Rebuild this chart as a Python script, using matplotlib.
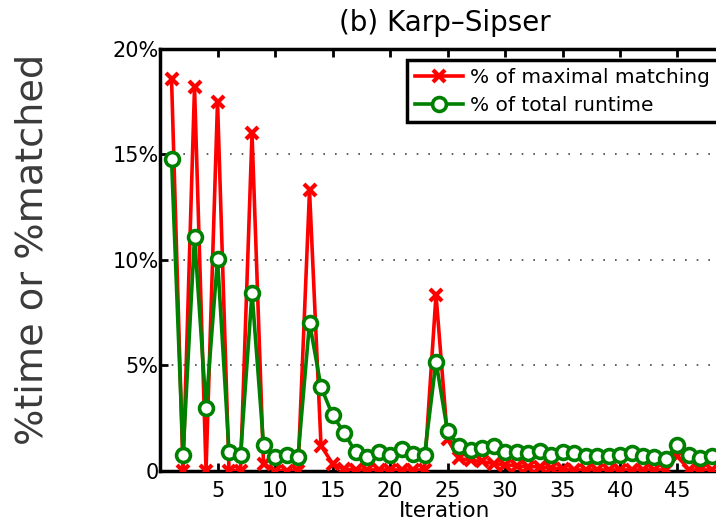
"""Per-iteration share of matching and runtime for Karp-Sipser."""

import numpy as np
import matplotlib
matplotlib.use("Agg")
import matplotlib.pyplot as plt

iterations = np.arange(1, 49)

pct_matching = [
    18.6, 0.02, 18.2, 0.02, 17.5, 0.02, 0.02, 16.0, 0.35, 0.02,
    0.02, 0.02, 13.3, 1.2, 0.35, 0.1, 0.05, 0.05, 0.05, 0.05,
    0.05, 0.05, 0.05, 8.35, 1.5, 0.6, 0.5, 0.45, 0.35, 0.3,
    0.25, 0.2, 0.2, 0.15, 0.1, 0.05, 0.05, 0.05, 0.05, 0.05,
    0.05, 0.05, 0.05, 0.05, 0.72, 0.05, 0.05, 0.05,
]

pct_runtime = [
    14.8, 0.75, 11.1, 3.0, 10.05, 0.9, 0.75, 8.45, 1.23, 0.68,
    0.75, 0.68, 7.03, 3.98, 2.65, 1.82, 0.9, 0.68, 0.92, 0.75,
    1.05, 0.8, 0.75, 5.18, 1.88, 1.2, 1.0, 1.1, 1.18, 0.9,
    0.9, 0.85, 0.95, 0.75, 0.9, 0.85, 0.7, 0.7, 0.7, 0.75,
    0.85, 0.7, 0.68, 0.58, 1.22, 0.75, 0.6, 0.7,
]

y_ticks = [0, 5, 10, 15, 20]
y_ticklabels = ["0", "5%", "10%", "15%", "20%"]
x_ticks = [5, 10, 15, 20, 25, 30, 35, 40, 45]

plt.rcParams["font.family"] = "DejaVu Sans"

fig = plt.figure(figsize=(7.16, 5.21), dpi=100)
# axes run a little past the right edge of the canvas
ax = fig.add_axes([0.2235, 0.096, 0.795, 0.81])

ax.plot(iterations, pct_matching, color="red", lw=2.6, marker="x",
        ms=8, mew=3, label="% of maximal matching", zorder=3)
ax.plot(iterations, pct_runtime, color="green", lw=2.6, marker="o",
        ms=10, mew=2.6, mfc="white", label="% of total runtime", zorder=4)

ax.set_xlim(0, 49.5)
ax.set_ylim(0, 20)
ax.set_xticks(x_ticks)
ax.set_yticks(y_ticks)
ax.set_yticklabels(y_ticklabels)
ax.tick_params(direction="in", length=6, width=2, labelsize=15,
               top=True, right=True)
ax.tick_params(axis="x", pad=7)
ax.tick_params(axis="y", pad=1)
for sp in ax.spines.values():
    sp.set_linewidth(2.5)

ax.yaxis.grid(True, linestyle=(0, (1, 6)), color="#444444", lw=1.2)
ax.set_axisbelow(True)

ax.set_title("(b) Karp\u2013Sipser", fontsize=20, pad=13)
ax.set_xlabel("Iteration", fontsize=15.5, labelpad=0)
fig.text(0.045, 0.522, "%time or %matched", rotation=90, fontsize=27.5,
         color="#3a3a3a", ha="center", va="center")

leg = ax.legend(loc="upper left", bbox_to_anchor=(0.434, 0.974),
                borderaxespad=0, fontsize=14.5, handlelength=2.4,
                handletextpad=0.35, borderpad=0.38, labelspacing=0.45,
                fancybox=False, framealpha=1, edgecolor="black")
leg.get_frame().set_linewidth(2.5)

fig.savefig("out.png", dpi=100)
